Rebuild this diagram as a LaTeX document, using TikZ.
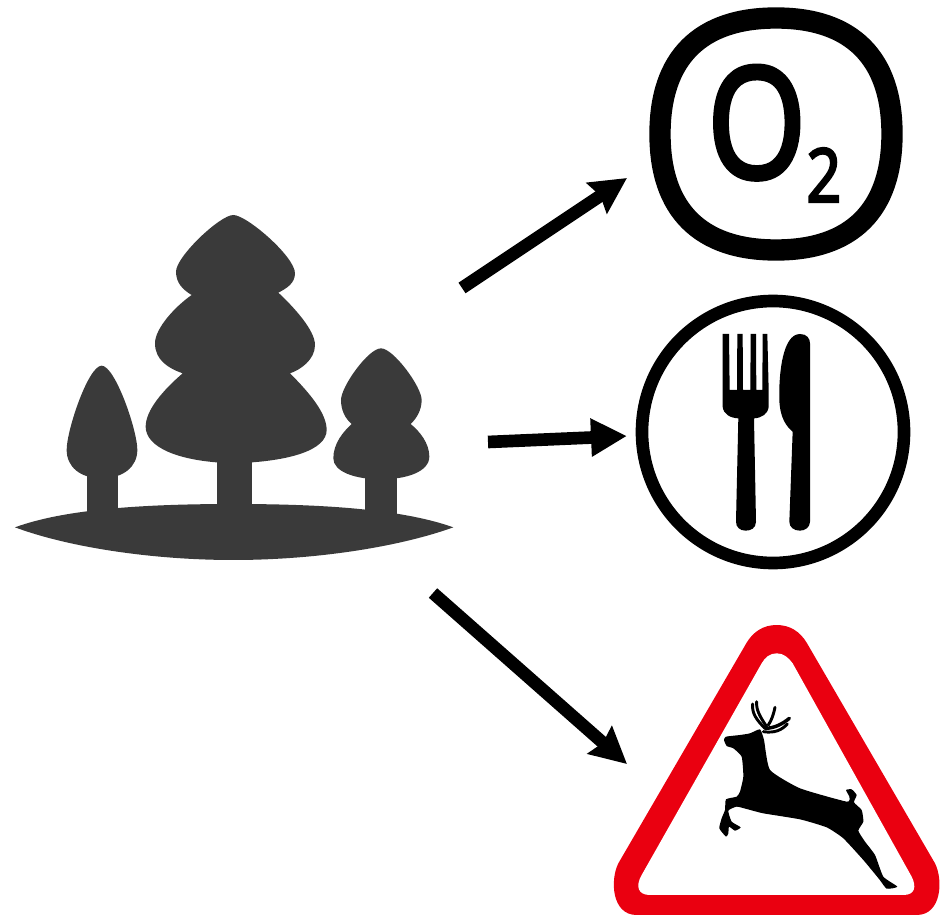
\documentclass[tikz,border=0pt]{standalone}
\usepackage{fontspec}
\usetikzlibrary{arrows.meta}
\newfontfamily\oxfont[FakeBold=3]{Noto Sans}
\definecolor{treegrey}{HTML}{3A3A3A}
\definecolor{signred}{HTML}{EA0010}
\tikzset{
  flow/.style={line width=9.5pt,-{Stealth[length=27pt,width=27pt,inset=#1]}},
  tree/.style={fill=treegrey,draw=none},
  ink/.style={fill=black,draw=none}
}
\begin{document}
\begin{tikzpicture}[x=0.75pt,y=-0.75pt]
\useasboundingbox (0,0) rectangle (940,920);
% trees
\begin{scope}[shift={(0,200)},scale=1/3]
\path[tree] (45,982) .. controls (200,925) and (450,912) .. (700,912) .. controls (950,912) and (1200,925) .. (1360,982) .. controls (1200,1040) and (950,1080) .. (700,1080) .. controls (450,1080) and (200,1040) .. (45,982) -- cycle;
\path[tree] (650,760) rectangle (755,950);
\path[tree] (262,800) rectangle (355,950);
\path[tree] (1095,800) rectangle (1190,950);
\path[tree] (700,45) .. controls (740,45) and (885,170) .. (885,220) .. controls (885,250) and (860,265) .. (835,278) .. controls (880,320) and (945,390) .. (945,435) .. controls (945,480) and (900,510) .. (870,520) .. controls (930,580) and (980,640) .. (980,690) .. controls (980,750) and (870,785) .. (700,790) .. controls (530,785) and (437,740) .. (437,680) .. controls (437,630) and (490,570) .. (548,520) .. controls (505,505) and (465,480) .. (465,430) .. controls (465,385) and (525,320) .. (575,285) .. controls (550,270) and (528,250) .. (528,215) .. controls (528,170) and (660,45) .. (700,45) -- cycle;
\path[tree] (305,497) .. controls (345,497) and (412,690) .. (412,750) .. controls (412,800) and (370,835) .. (305,835) .. controls (240,835) and (200,800) .. (200,750) .. controls (200,690) and (265,497) .. (305,497) -- cycle;
\path[tree] (1143,445) .. controls (1180,445) and (1265,560) .. (1265,600) .. controls (1265,630) and (1250,655) .. (1232,672) .. controls (1260,695) and (1288,730) .. (1288,770) .. controls (1288,815) and (1220,838) .. (1143,838) .. controls (1065,838) and (1000,815) .. (1000,775) .. controls (1000,730) and (1030,695) .. (1055,672) .. controls (1035,655) and (1023,630) .. (1023,600) .. controls (1023,560) and (1105,445) .. (1143,445) -- cycle;
\end{scope}
% oxygen sign
\draw[line width=16pt] (660,134) .. controls (660,58) and (700,18) .. (776,18) .. controls (852,18) and (892,58) .. (892,134) .. controls (892,210) and (852,250) .. (776,250) .. controls (700,250) and (660,210) .. (660,134) -- cycle;
\node[anchor=base west,inner sep=0pt,xscale=.82] (oxygen) at (707,178) {\oxfont\fontsize{116pt}{116pt}\selectfont O\raisebox{-18pt}{\fontsize{56pt}{56pt}\selectfont 2}};
% plate
\draw[line width=9.5pt] (773,432) circle[radius=131];
\begin{scope}[shift={(630,290)},scale=1/3]
\path[ink] (278,132) -- (297,132) -- (299,300) -- (321,300) -- (322,132) -- (338,132) -- (339,300) -- (361,300) -- (362,132) -- (378,132) -- (379,300) -- (397,300) -- (398,132) -- (412,132) -- (416,300) -- (416,350) .. controls (414,372) and (395,384) .. (372,385) -- (378,695) .. controls (378,715) and (362,722) .. (347,722) .. controls (330,722) and (318,712) .. (318,695) -- (325,385) .. controls (300,384) and (280,372) .. (278,350) -- cycle;
\path[ink] (510,132) .. controls (530,132) and (540,145) .. (540,160) -- (540,695) .. controls (540,712) and (525,722) .. (510,722) .. controls (492,722) and (478,712) .. (478,695) -- (488,425) .. controls (470,410) and (450,385) .. (448,330) .. controls (446,250) and (458,132) .. (510,132) -- cycle;
\end{scope}
% deer sign
\begin{scope}[shift={(600,600)},scale=1/3]
\path[fill=signred] (530,75) .. controls (490,75) and (460,95) .. (440,128) -- (55,790) .. controls (30,840) and (35,945) .. (110,945) -- (950,945) .. controls (1025,945) and (1030,840) .. (1005,790) -- (620,128) .. controls (600,95) and (570,75) .. (530,75) -- cycle;
\path[fill=white] (530,160) .. controls (510,160) and (495,172) .. (485,190) -- (125,825) .. controls (105,860) and (115,885) .. (150,885) -- (910,885) .. controls (945,885) and (950,860) .. (935,830) -- (578,190) .. controls (565,172) and (550,160) .. (530,160) -- cycle;
\path[ink] plot[smooth cycle,tension=.3] coordinates {(372,420) (378,410) (420,405) (450,400) (480,388) (492,420) (510,510) (600,565) (740,605) (748,590) (738,570) (755,568) (770,585) (762,607) (785,630) (790,665) (775,692) (795,725) (825,765) (850,830) (892,860) (860,866) (838,838) (790,780) (730,715) (680,682) (600,658) (490,640) (440,627) (410,620) (385,632) (395,665) (422,682) (405,692) (387,680) (385,700) (378,710) (358,685) (365,655) (375,630) (378,598) (410,590) (420,575) (430,530) (425,470) (400,445) (380,438)};
\draw[line width=2.2pt,line cap=round] (495,385) .. controls (470,360) and (455,340) .. (458,312);
\draw[line width=2.2pt,line cap=round] (500,380) .. controls (480,350) and (468,330) .. (470,305);
\draw[line width=2.2pt,line cap=round] (505,375) .. controls (515,360) and (520,345) .. (525,322);
\draw[line width=2.6pt,line cap=round] (495,385) .. controls (525,385) and (550,370) .. (568,355);
\draw[line width=2.2pt,line cap=round] (490,395) .. controls (525,400) and (545,390) .. (562,372);
\end{scope}
% arrows
\coordinate (forest1) at (462,288);
\coordinate (forest2) at (488,442);
\coordinate (forest3) at (433,593);
\coordinate (gas) at (627,178);
\coordinate (food) at (627,436);
\coordinate (animal) at (627,764);
\draw[flow=3pt] (forest1) -- (gas);
\draw[flow=0pt] (forest2) -- (food);
\draw[flow=3pt] (forest3) -- (animal);
\end{tikzpicture}
\end{document}
